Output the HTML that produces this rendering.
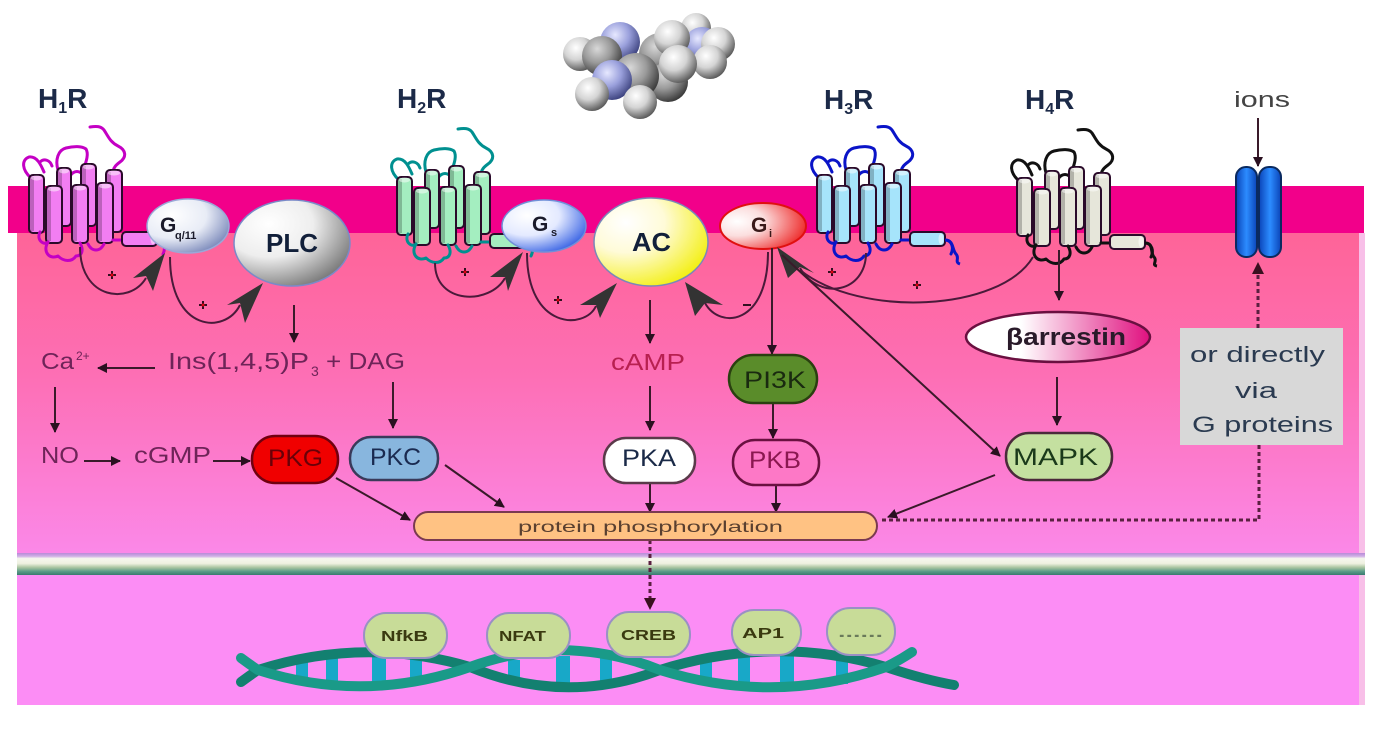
<!DOCTYPE html>
<html><head><meta charset="utf-8"><style>
html,body{margin:0;padding:0;background:#fff;}
svg{display:block;}
</style></head><body>
<svg width="1389" height="730" viewBox="0 0 1389 730" xmlns="http://www.w3.org/2000/svg" font-family="'Liberation Sans', 'DejaVu Sans', sans-serif">
<defs>
<linearGradient id="cy" x1="0" y1="0" x2="0" y2="1"><stop offset="0" stop-color="#fe6498"/><stop offset=".45" stop-color="#fd6fb5"/><stop offset="1" stop-color="#fb88e8"/></linearGradient>
<linearGradient id="nm" x1="0" y1="0" x2="0" y2="1"><stop offset="0" stop-color="#b88ad8"/><stop offset=".15" stop-color="#d0b0e6"/><stop offset=".25" stop-color="#f6f8ee"/><stop offset=".48" stop-color="#eef0e0"/><stop offset=".66" stop-color="#a8c4a0"/><stop offset=".84" stop-color="#5a9a88"/><stop offset="1" stop-color="#3a7a70"/></linearGradient>
<radialGradient id="gq" cx="30%" cy="30%" r="85%"><stop offset="0" stop-color="#fff"/><stop offset=".5" stop-color="#e8ecf6"/><stop offset="1" stop-color="#6878b0"/></radialGradient>
<radialGradient id="plc" cx="30%" cy="28%" r="85%"><stop offset="0" stop-color="#fff"/><stop offset=".45" stop-color="#eeeeee"/><stop offset="1" stop-color="#6a6a6a"/></radialGradient>
<radialGradient id="gs" cx="30%" cy="30%" r="85%"><stop offset="0" stop-color="#fff"/><stop offset=".45" stop-color="#e4eaff"/><stop offset="1" stop-color="#1e4ee0"/></radialGradient>
<radialGradient id="ac" cx="28%" cy="28%" r="85%"><stop offset="0" stop-color="#fff"/><stop offset=".4" stop-color="#fffbd8"/><stop offset="1" stop-color="#f2ee00"/></radialGradient>
<radialGradient id="gi" cx="20%" cy="40%" r="90%"><stop offset="0" stop-color="#fff"/><stop offset=".35" stop-color="#fbdede"/><stop offset="1" stop-color="#ec1010"/></radialGradient>
<linearGradient id="barr" x1="0" y1="0" x2="1" y2="0"><stop offset="0" stop-color="#fff"/><stop offset=".3" stop-color="#fff"/><stop offset="1" stop-color="#e0107f"/></linearGradient>
<linearGradient id="ion" x1="0" y1="0" x2="1" y2="0"><stop offset="0" stop-color="#0a44b8"/><stop offset=".5" stop-color="#2c8cff"/><stop offset="1" stop-color="#0a44b8"/></linearGradient>
<radialGradient id="sh" cx="38%" cy="32%" r="70%"><stop offset="0" stop-color="#ffffff"/><stop offset=".5" stop-color="#d4d4d4"/><stop offset="1" stop-color="#5a5a5a"/></radialGradient>
<radialGradient id="sc" cx="38%" cy="32%" r="70%"><stop offset="0" stop-color="#d8d8d8"/><stop offset=".5" stop-color="#9a9a9a"/><stop offset="1" stop-color="#3a3a3a"/></radialGradient>
<radialGradient id="sn" cx="38%" cy="32%" r="70%"><stop offset="0" stop-color="#e6e8ff"/><stop offset=".5" stop-color="#9aa0dc"/><stop offset="1" stop-color="#3e4480"/></radialGradient>
<marker id="a" viewBox="0 0 10 10" refX="9" refY="5" markerWidth="10" markerHeight="10" markerUnits="userSpaceOnUse" orient="auto"><path d="M0,0 L10,5 L0,10 z" fill="#2a1020"/></marker>

<g id="rec">
  <g fill="none" stroke="currentColor" stroke-width="3" stroke-linejoin="round" stroke-linecap="round">
    <path d="M31,178 C22,170 21,160 29,157 C37,156 41,165 44,172"/>
    <path d="M40,162 C44,158 50,160 52,166"/>
    <path d="M58,170 C55,160 58,150 66,148 C74,146 82,146 86,149 C89,154 86,162 84,168"/>
    <path d="M90,127 C96,126 101,126 104,130 C108,136 110,142 118,146 C126,150 127,157 120,162 C116,165 114,167 113,171"/>
    <path d="M70,176 C74,170 80,170 84,176"/>
  </g>
  <g stroke="#2a0a2a" stroke-width="2">
    <rect x="29" y="175" width="15" height="58" rx="4"/>
    <rect x="57" y="168" width="14" height="58" rx="4"/>
    <rect x="81" y="164" width="15" height="62" rx="4"/>
    <rect x="106" y="170" width="16" height="62" rx="4"/>
  </g>
  <g fill="#000" opacity=".22">
    <rect x="30" y="177" width="4" height="54"/><rect x="58" y="170" width="4" height="54"/><rect x="82" y="166" width="4" height="58"/><rect x="107" y="172" width="4" height="58"/>
  </g>
  <g stroke="#2a0a2a" stroke-width="2">
    <rect x="46" y="186" width="16" height="57" rx="4"/>
    <rect x="72" y="185" width="16" height="58" rx="4"/>
    <rect x="97" y="183" width="16" height="60" rx="4"/>
  </g>
  <g fill="#000" opacity=".22">
    <rect x="47" y="188" width="4" height="53"/><rect x="73" y="187" width="4" height="54"/><rect x="98" y="185" width="4" height="56"/>
  </g>
  <g fill="#fff" opacity=".5">
    <ellipse cx="54" cy="189" rx="6" ry="2.5"/><ellipse cx="80" cy="188" rx="6" ry="2.5"/><ellipse cx="105" cy="186" rx="6" ry="2.5"/>
    <ellipse cx="36.5" cy="178" rx="5.5" ry="2.5"/><ellipse cx="64" cy="171" rx="5" ry="2.5"/><ellipse cx="88.5" cy="167" rx="5.5" ry="2.5"/><ellipse cx="114" cy="173" rx="6" ry="2.5"/>
  </g>
  <g fill="none" stroke="currentColor" stroke-width="3" stroke-linejoin="round" stroke-linecap="round">
    <path d="M48,242 C42,252 50,260 58,256 C64,262 72,262 76,256 C82,256 84,250 80,243"/>
    <path d="M88,244 C92,252 100,252 104,244"/>
    <path d="M40,232 C36,240 44,246 48,242"/>
    <path d="M113,240 L122,240"/>
    <path d="M157,240 C164,240 166,248 163,254"/>
  </g>
  <rect x="122" y="232" width="35" height="14" rx="4" stroke="#2a0a2a" stroke-width="2"/>
  <ellipse cx="153" cy="239" rx="2.5" ry="5.5" fill="#fff" opacity=".5"/>
</g>
</defs>

<!-- backgrounds -->
<rect x="17" y="233" width="1342" height="320" fill="url(#cy)"/>
<rect x="17" y="575" width="1342" height="130" fill="#fc8df5"/>
<rect x="1359" y="233" width="6" height="472" fill="#f8bfe8"/>
<rect x="17" y="553" width="1348" height="22" fill="url(#nm)"/>
<rect x="8" y="186" width="1356" height="47" fill="#f2008a"/>

<!-- histamine molecule -->
<g>
<circle cx="696" cy="28" r="15" fill="url(#sh)"/>
<circle cx="702" cy="45" r="18" fill="url(#sn)"/>
<circle cx="718" cy="44" r="17" fill="url(#sh)"/>
<circle cx="710" cy="62" r="17" fill="url(#sh)"/>
<circle cx="660" cy="54" r="21" fill="url(#sc)"/>
<circle cx="672" cy="38" r="18" fill="url(#sh)"/>
<circle cx="620" cy="42" r="20" fill="url(#sn)"/>
<circle cx="580" cy="54" r="17" fill="url(#sh)"/>
<circle cx="602" cy="56" r="20" fill="url(#sc)"/>
<circle cx="668" cy="82" r="20" fill="url(#sc)"/>
<circle cx="678" cy="64" r="19" fill="url(#sh)"/>
<circle cx="636" cy="76" r="23" fill="url(#sc)"/>
<circle cx="612" cy="80" r="20" fill="url(#sn)"/>
<circle cx="592" cy="94" r="17" fill="url(#sh)"/>
<circle cx="640" cy="102" r="17" fill="url(#sh)"/>
</g>

<!-- receptors -->
<use href="#rec" fill="#f27ef2" color="#c400c4"/>
<use href="#rec" transform="translate(368,2)" fill="#a4eec0" color="#009090"/>
<use href="#rec" transform="translate(788,0)" fill="#a6e4fb" color="#0a14c8"/>
<use href="#rec" transform="translate(988,3)" fill="#e6e6da" color="#111"/>
<path d="M945,240 C954,240 952,250 956,254 C960,258 954,262 960,264" fill="none" stroke="#0a14c8" stroke-width="3"/>
<path d="M1145,243 C1154,243 1150,253 1154,257 C1158,261 1151,265 1157,266" fill="none" stroke="#111" stroke-width="3"/>

<!-- ion channel -->
<rect x="1236" y="167" width="21" height="90" rx="10" fill="url(#ion)" stroke="#0a2a60" stroke-width="2"/>
<rect x="1259" y="167" width="22" height="90" rx="10" fill="url(#ion)" stroke="#0a2a60" stroke-width="2"/>

<!-- G proteins & effectors -->
<ellipse cx="188" cy="226" rx="41" ry="27" fill="url(#gq)" stroke="#9aa8d8" stroke-width="1.5"/>
<ellipse cx="292" cy="243" rx="58" ry="43" fill="url(#plc)" stroke="#7a8ac8" stroke-width="1.5"/>
<ellipse cx="544" cy="226" rx="42" ry="26" fill="url(#gs)" stroke="#7090d8" stroke-width="1.5"/>
<ellipse cx="651" cy="242" rx="57" ry="44" fill="url(#ac)" stroke="#7a88b8" stroke-width="1.5"/>
<ellipse cx="763" cy="226" rx="43" ry="23" fill="url(#gi)" stroke="#e01010" stroke-width="2"/>

<text x="160" y="232" font-size="21" font-weight="bold" fill="#1a1a2a">G</text>
<text x="175" y="239" font-size="11" font-weight="bold" fill="#1a1a2a">q/11</text>
<text x="266" y="252" font-size="26" font-weight="bold" fill="#12203a" textLength="52" lengthAdjust="spacingAndGlyphs">PLC</text>
<text x="532" y="231" font-size="21" font-weight="bold" fill="#1a1a2a">G</text>
<text x="551" y="236" font-size="11" font-weight="bold" fill="#1a1a2a">s</text>
<text x="632" y="251" font-size="26" font-weight="bold" fill="#12203a" textLength="39" lengthAdjust="spacingAndGlyphs">AC</text>
<text x="751" y="232" font-size="21" font-weight="bold" fill="#3a1a1a">G</text>
<text x="769" y="237" font-size="11" font-weight="bold" fill="#3a1a1a">i</text>

<!-- curved activation arrows -->
<g fill="none" stroke="#4a1a3a" stroke-width="2">
  <path d="M80,247 C80,300 130,305 146,278"/>
  <path d="M170,257 C170,332 225,335 240,305"/>
  <path d="M435,263 C435,305 490,305 505,278"/>
  <path d="M527,253 C527,330 585,330 596,306"/>
  <path d="M705,303 C720,330 768,325 768,252"/>
  <path d="M866,253 C866,292 820,302 800,268"/>
  <path d="M1033,257 C1000,312 860,318 800,270"/>
</g>
<g fill="#333">
  <polygon points="165,253 133,278 146,276 153,291"/>
  <polygon points="263,283 227,305 240,303 245,323"/>
  <polygon points="523,252 490,277 505,277 508,291"/>
  <polygon points="617,283 580,305 596,305 600,318"/>
  <polygon points="685,282 695,316 705,303 723,305"/>
  <polygon points="777,247 788,278 800,267 814,273"/>
</g>
<!-- plus / minus signs -->
<g stroke="#301020" stroke-width="2">
  <path d="M108,275 h8 M112,271 v8"/>
  <path d="M199,305 h8 M203,301 v8"/>
  <path d="M461,272 h8 M465,268 v8"/>
  <path d="M554,300 h8 M558,296 v8"/>
  <path d="M828,272 h8 M832,268 v8"/>
  <path d="M913,285 h8 M917,281 v8"/>
  <path d="M743,305 h8"/>
</g>
<g fill="#e00010">
  <circle cx="112" cy="275" r="1.5"/><circle cx="203" cy="305" r="1.5"/><circle cx="465" cy="272" r="1.5"/><circle cx="558" cy="300" r="1.5"/><circle cx="832" cy="272" r="1.5"/><circle cx="917" cy="285" r="1.5"/>
</g>

<!-- straight arrows -->
<g stroke="#3a1a2a" stroke-width="2" fill="none" marker-end="url(#a)">
  <path d="M294,305 L294,342"/>
  <path d="M155,368 L98,368"/>
  <path d="M55,387 L55,432"/>
  <path d="M393,382 L393,428"/>
  <path d="M84,461 L120,461"/>
  <path d="M213,461 L250,461"/>
  <path d="M336,478 L410,520"/>
  <path d="M445,465 L504,507"/>
  <path d="M650,300 L650,343"/>
  <path d="M650,386 L650,430"/>
  <path d="M650,484 L650,512"/>
  <path d="M772,248 L772,354"/>
  <path d="M773,403 L773,438"/>
  <path d="M776,486 L776,512"/>
  <path d="M782,255 L1000,456"/>
  <path d="M995,475 L888,517"/>
  <path d="M1059,250 L1059,300"/>
  <path d="M1057,377 L1057,425"/>
  <path d="M1258,118 L1258,166"/>
</g>
<g stroke="#5a2040" stroke-width="3" fill="none" stroke-dasharray="4 3">
  <path d="M1259,445 L1259,520 L880,520"/>
  <path d="M1258,328 L1258,266"/>
  <path d="M650,540 L650,600"/>
</g>
<path d="M1252,274 L1258,262 L1264,274 z" fill="#3a1020"/>
<path d="M644,598 L650,610 L656,598 z" fill="#3a1020"/>

<!-- effector pills -->
<rect x="252" y="436" width="86" height="47" rx="23" fill="#f00000" stroke="#700010" stroke-width="2.5"/>
<rect x="350" y="437" width="88" height="43" rx="21" fill="#88b6de" stroke="#3a3a5a" stroke-width="2.5"/>
<rect x="604" y="438" width="91" height="45" rx="22" fill="#fff" stroke="#5a3a4a" stroke-width="2.5"/>
<rect x="729" y="355" width="88" height="48" rx="24" fill="#5a8c2a" stroke="#2a4010" stroke-width="2.5"/>
<rect x="733" y="440" width="86" height="45" rx="22" fill="#fd78c6" stroke="#6a1040" stroke-width="2.5"/>
<rect x="1006" y="433" width="106" height="47" rx="23" fill="#c4e0a0" stroke="#4a2a3a" stroke-width="2.5"/>
<ellipse cx="1058" cy="337" rx="92" ry="25" fill="url(#barr)" stroke="#6a1040" stroke-width="2.5"/>
<rect x="414" y="512" width="463" height="28" rx="14" fill="#ffc283" stroke="#7a3a50" stroke-width="2"/>

<!-- box -->
<rect x="1180" y="328" width="163" height="117" fill="#d8d8d8"/>

<!-- texts -->
<g font-weight="bold" fill="#1c2a48" font-size="28">
  <text x="38" y="108">H<tspan font-size="16" dy="5">1</tspan><tspan dy="-5">R</tspan></text>
  <text x="397" y="108">H<tspan font-size="16" dy="5">2</tspan><tspan dy="-5">R</tspan></text>
  <text x="824" y="109">H<tspan font-size="16" dy="5">3</tspan><tspan dy="-5">R</tspan></text>
  <text x="1025" y="109">H<tspan font-size="16" dy="5">4</tspan><tspan dy="-5">R</tspan></text>
</g>
<text x="1234" y="107" font-size="22" fill="#444" textLength="56" lengthAdjust="spacingAndGlyphs">ions</text>

<g fill="#6e2458" font-size="23">
  <text x="41" y="369" textLength="33" lengthAdjust="spacingAndGlyphs">Ca</text>
  <text x="76" y="360" font-size="12">2+</text>
  <text x="168" y="369" textLength="141" lengthAdjust="spacingAndGlyphs">Ins(1,4,5)P</text>
  <text x="311" y="376" font-size="14">3</text>
  <text x="326" y="369" textLength="79" lengthAdjust="spacingAndGlyphs">+ DAG</text>
  <text x="41" y="463" textLength="38" lengthAdjust="spacingAndGlyphs">NO</text>
  <text x="134" y="463" textLength="77" lengthAdjust="spacingAndGlyphs">cGMP</text>
</g>
<text x="611" y="370" font-size="23" fill="#b82050" textLength="74" lengthAdjust="spacingAndGlyphs">cAMP</text>

<text x="268" y="466" font-size="24" fill="#6a0008" textLength="55" lengthAdjust="spacingAndGlyphs">PKG</text>
<text x="370" y="465" font-size="24" fill="#1a2a50" textLength="51" lengthAdjust="spacingAndGlyphs">PKC</text>
<text x="622" y="466" font-size="24" fill="#1a2a48" textLength="54" lengthAdjust="spacingAndGlyphs">PKA</text>
<text x="744" y="388" font-size="24" fill="#1a2a10" textLength="62" lengthAdjust="spacingAndGlyphs">PI3K</text>
<text x="749" y="468" font-size="24" fill="#8a1850" textLength="52" lengthAdjust="spacingAndGlyphs">PKB</text>
<text x="1013" y="465" font-size="24" fill="#1a3a1a" textLength="85" lengthAdjust="spacingAndGlyphs">MAPK</text>
<text x="1006" y="345" font-size="24" font-weight="bold" fill="#2a1a2a" textLength="120" lengthAdjust="spacingAndGlyphs">βarrestin</text>
<text x="518" y="532" font-size="16" fill="#5a4030" textLength="265" lengthAdjust="spacingAndGlyphs">protein phosphorylation</text>

<g font-size="22" fill="#2a3a50">
  <text x="1190" y="362" textLength="135" lengthAdjust="spacingAndGlyphs">or directly</text>
  <text x="1235" y="398" textLength="42" lengthAdjust="spacingAndGlyphs">via</text>
  <text x="1192" y="432" textLength="141" lengthAdjust="spacingAndGlyphs">G proteins</text>
</g>

<!-- DNA -->
<g fill="#18a8c8">
  <rect x="296" y="660" width="12" height="24"/>
  <rect x="326" y="658" width="12" height="26"/>
  <rect x="372" y="656" width="14" height="28"/>
  <rect x="410" y="658" width="12" height="26"/>
  <rect x="508" y="660" width="12" height="24"/>
  <rect x="556" y="656" width="14" height="28"/>
  <rect x="600" y="658" width="12" height="26"/>
  <rect x="700" y="660" width="12" height="24"/>
  <rect x="738" y="656" width="12" height="28"/>
  <rect x="780" y="656" width="14" height="28"/>
  <rect x="836" y="658" width="12" height="26"/>
</g>
<g fill="none" stroke-width="10" stroke-linecap="round">
  <path d="M241,682 Q249,676 258,670 Q364,636 470,667 Q565,706 660,670 Q775,634 886,667 Q925,680 954,685" stroke="#138070"/>
  <path d="M241,658 Q249,664 258,670 Q364,704 470,667 Q565,632 660,670 Q775,706 886,667 Q900,660 912,652" stroke="#1a9a88"/>
</g>

<!-- transcription factors -->
<g fill="#c8dc98" stroke="#9a90c4" stroke-width="2">
  <rect x="364" y="613" width="83" height="45" rx="22"/>
  <rect x="487" y="613" width="83" height="45" rx="22"/>
  <rect x="607" y="612" width="83" height="45" rx="22"/>
  <rect x="732" y="610" width="69" height="45" rx="22"/>
  <rect x="827" y="608" width="68" height="47" rx="23"/>
</g>
<g font-size="15" fill="#3a3a10" font-weight="bold">
  <text x="381" y="641" textLength="47" lengthAdjust="spacingAndGlyphs">NfkB</text>
  <text x="499" y="641" textLength="47" lengthAdjust="spacingAndGlyphs">NFAT</text>
  <text x="621" y="640" textLength="55" lengthAdjust="spacingAndGlyphs">CREB</text>
  <text x="742" y="638" textLength="42" lengthAdjust="spacingAndGlyphs">AP1</text>
  <text x="838" y="637" textLength="45" lengthAdjust="spacingAndGlyphs" fill="#6a7a5a">......</text>
</g>
</svg>
</body></html>
